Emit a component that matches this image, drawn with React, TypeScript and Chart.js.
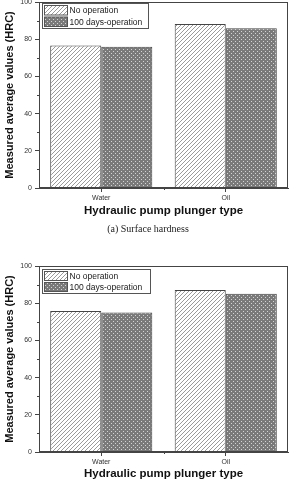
import React, { useEffect, useRef } from "react";
import { Chart, registerables } from "chart.js";

Chart.register(...registerables);

const categories = ["Water", "Oil"];
const seriesNames = ["No operation", "100 days-operation"];
const surfaceNoOperation = [76.6, 88.2];
const surface100Days = [75.9, 85.9];
const innerNoOperation = [75.8, 87.1];
const inner100Days = [75.0, 85.1];
const yMin = 0;
const yMax = 100;
const yStep = 20;
const yMinorTicks = [10, 30, 50, 70, 90];
const xAxisTitle = "Hydraulic pump plunger type";
const yAxisTitle = "Measured average values (HRC)";
const captionTop = "(a) Surface hardness";

const SANS = "'Liberation Sans', Arial, sans-serif";
const SERIF = "'Liberation Serif', 'Times New Roman', serif";

function hatchPattern(ctx: CanvasRenderingContext2D): CanvasPattern {
  const c = document.createElement("canvas");
  c.width = 4;
  c.height = 4;
  const g = c.getContext("2d")!;
  g.fillStyle = "#ffffff";
  g.fillRect(0, 0, 4, 4);
  g.strokeStyle = "#9a9a9a";
  g.lineWidth = 1;
  g.beginPath();
  g.moveTo(0, 4);
  g.lineTo(4, 0);
  g.moveTo(-1, 1);
  g.lineTo(1, -1);
  g.moveTo(3, 5);
  g.lineTo(5, 3);
  g.stroke();
  return ctx.createPattern(c, "repeat")!;
}

function crossPattern(ctx: CanvasRenderingContext2D): CanvasPattern {
  const c = document.createElement("canvas");
  c.width = 4;
  c.height = 4;
  const g = c.getContext("2d")!;
  g.fillStyle = "#7a7a7a";
  g.fillRect(0, 0, 4, 4);
  g.fillStyle = "#d4d4d4";
  g.fillRect(1, 1, 1, 1);
  g.fillRect(3, 3, 1, 1);
  return ctx.createPattern(c, "repeat")!;
}

type Opts = {
  padTop: number;
  xHeight: number;
  xTitlePadBottom: number;
  caption?: string;
  captionY?: number;
  legendDy: number;
  legendW: number;
  legendH: number;
};

function makeChart(canvas: HTMLCanvasElement, noOp: number[], days: number[], o: Opts) {
  const ctx = canvas.getContext("2d")!;
  const pA = hatchPattern(ctx);
  const pB = crossPattern(ctx);

  const extras = {
    id: "extras",
    afterDraw(chart: any) {
      const c = chart.ctx as CanvasRenderingContext2D;
      const a = chart.chartArea;
      const ys = chart.scales.y;
      c.save();
      c.strokeStyle = "#444";
      c.lineWidth = 1;
      c.strokeRect(Math.round(a.left) + 0.5, Math.round(a.top) + 0.5, Math.round(a.right - a.left) - 1, Math.round(a.bottom - a.top) - 1);
      c.beginPath();
      for (const v of yMinorTicks) {
        const y = Math.round(ys.getPixelForValue(v)) + 0.5;
        c.moveTo(a.left - 2, y);
        c.lineTo(a.left, y);
      }
      const mx = Math.round((a.left + a.right) / 2) + 0.5;
      c.moveTo(mx, a.bottom);
      c.lineTo(mx, a.bottom + 2);
      c.stroke();
      const lx = Math.round(a.left) + 3.5;
      const ly = Math.round(a.top) + o.legendDy + 0.5;
      c.fillStyle = "#fff";
      c.fillRect(lx, ly, o.legendW, o.legendH);
      c.strokeStyle = "#555";
      c.strokeRect(lx, ly, o.legendW, o.legendH);
      const rowH = o.legendH / 2;
      const pats = [pA, pB];
      c.font = `8.5px ${SANS}`;
      c.textBaseline = "middle";
      c.textAlign = "left";
      for (let i = 0; i < 2; i++) {
        const sy = ly + 2 + i * (rowH - 1);
        c.fillStyle = pats[i];
        c.fillRect(lx + 2, sy, 23, rowH - 3);
        c.strokeStyle = "#555";
        c.strokeRect(lx + 2, sy, 23, rowH - 3);
        c.fillStyle = "#1a1a1a";
        c.fillText(seriesNames[i], lx + 27, sy + (rowH - 3) / 2 + 0.5);
      }
      if (o.caption) {
        c.font = `10px ${SERIF}`;
        c.fillStyle = "#222";
        c.textAlign = "center";
        c.textBaseline = "middle";
        c.fillText(o.caption, 148, o.captionY!);
      }
      c.restore();
    },
  };

  return new Chart(canvas, {
    type: "bar",
    data: {
      labels: categories,
      datasets: [
        {
          label: seriesNames[0],
          data: noOp,
          backgroundColor: pA,
          borderColor: "#444",
          borderWidth: 1,
          categoryPercentage: 0.82,
          barPercentage: 1,
        },
        {
          label: seriesNames[1],
          data: days,
          backgroundColor: pB,
          borderColor: "#444",
          borderWidth: 1,
          categoryPercentage: 0.82,
          barPercentage: 1,
        },
      ],
    },
    options: {
      responsive: false,
      animation: false,
      devicePixelRatio: 1,
      layout: { padding: { top: o.padTop, right: 5, left: 0, bottom: 0 } },
      plugins: { legend: { display: false }, tooltip: { enabled: false } },
      scales: {
        x: {
          offset: true,
          grid: { offset: false, drawOnChartArea: false, tickLength: 4, color: "#444" },
          border: { display: true, color: "#444" },
          ticks: { padding: 2, color: "#333", font: { family: SANS, size: 7 }, maxRotation: 0 },
          title: {
            display: true,
            text: xAxisTitle,
            color: "#111",
            font: { family: SANS, size: 11.5, weight: "bold" },
            padding: { top: 0, bottom: o.xTitlePadBottom },
          },
          afterFit(scale: any) {
            scale.height = o.xHeight;
          },
        },
        y: {
          min: yMin,
          max: yMax,
          grid: { drawOnChartArea: false, tickLength: 4, color: "#444" },
          border: { display: true, color: "#444" },
          ticks: { stepSize: yStep, padding: 3, color: "#333", font: { family: SANS, size: 7 } },
          title: {
            display: true,
            text: yAxisTitle,
            color: "#111",
            font: { family: SANS, size: 11, weight: "bold" },
            padding: { top: 3, bottom: 0 },
          },
          afterFit(scale: any) {
            scale.width = 39;
          },
        },
      },
    } as any,
    plugins: [extras],
  });
}

function ChartBox(props: { top: number; height: number; noOp: number[]; days: number[]; opts: Opts }) {
  const ref = useRef<HTMLCanvasElement | null>(null);
  useEffect(() => {
    const chart = makeChart(ref.current!, props.noOp, props.days, props.opts);
    return () => chart.destroy();
  }, []);
  return (
    <canvas
      ref={ref}
      width={293}
      height={props.height}
      style={{ position: "absolute", left: 0, top: props.top, width: 293, height: props.height, display: "block" }}
    />
  );
}

export default function App() {
  return (
    <div style={{ position: "absolute", left: 0, top: 0, width: 293, height: 488, overflow: "hidden", background: "#fff" }}>
      <ChartBox
        top={-6}
        height={246}
        noOp={surfaceNoOperation}
        days={surface100Days}
        opts={{ padTop: 8, xHeight: 52, xTitlePadBottom: 22, caption: captionTop, captionY: 235, legendDy: 1, legendW: 106, legendH: 25 }}
      />
      <ChartBox
        top={240}
        height={248}
        noOp={innerNoOperation}
        days={inner100Days}
        opts={{ padTop: 26, xHeight: 36, xTitlePadBottom: 7, legendDy: 3, legendW: 108, legendH: 24 }}
      />
    </div>
  );
}
